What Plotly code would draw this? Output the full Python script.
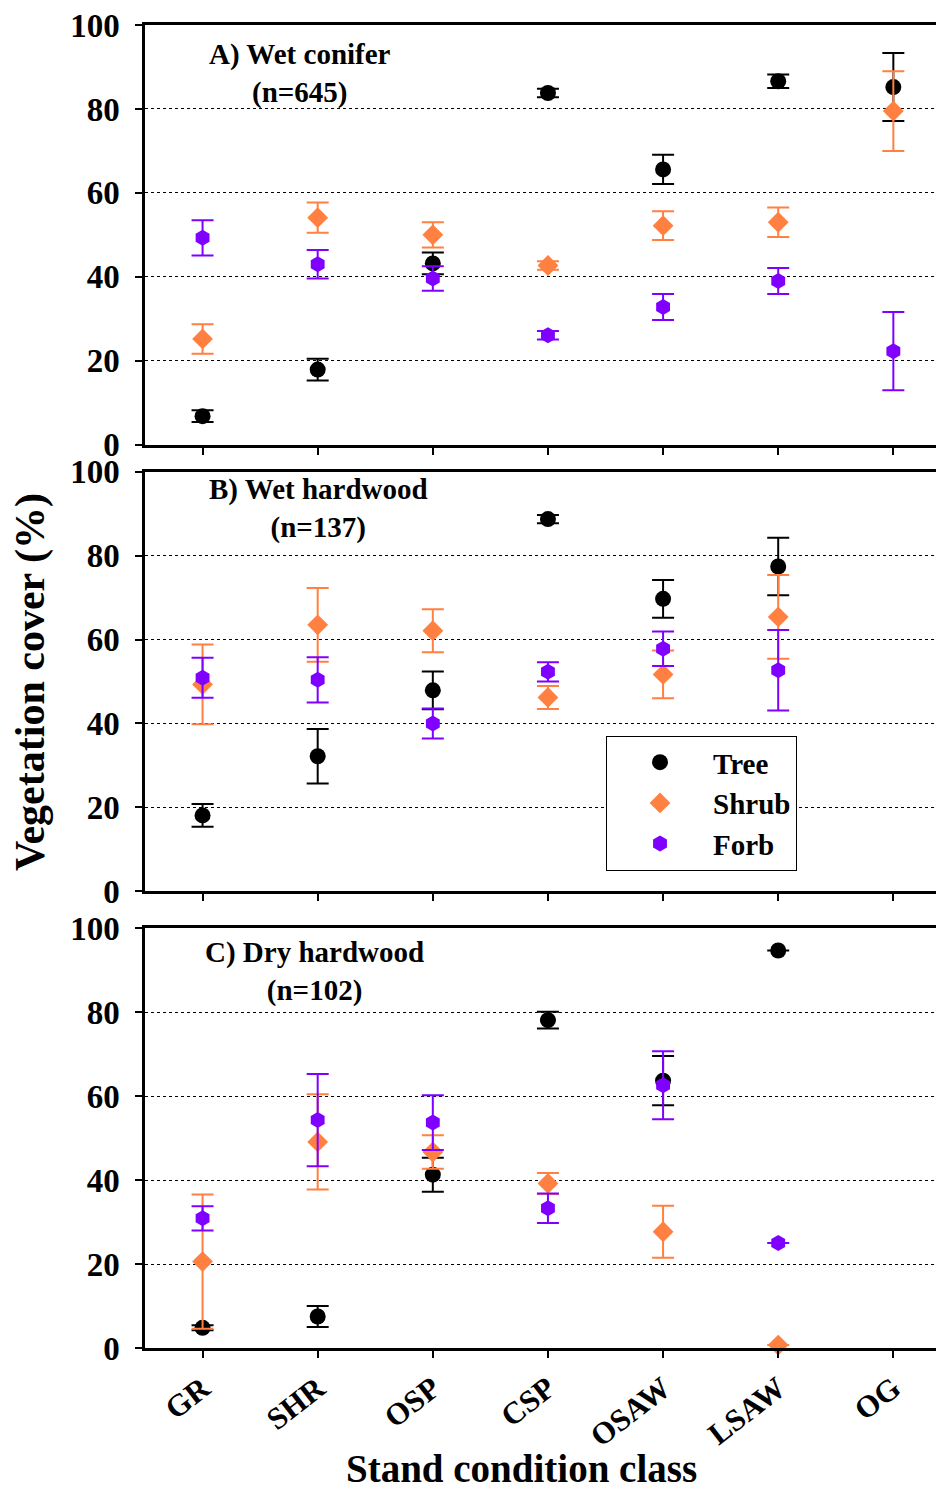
import plotly.graph_objects as go
from plotly.subplots import make_subplots

categories = ["GR", "SHR", "OSP", "CSP", "OSAW", "LSAW", "OG"]

# Panel A) Wet conifer
tree_A = [6.8, 17.9, 43.2, 83.8, 65.6, 86.6, 85.2]
tree_A_err = [1.4, 2.6, 2.6, 1.0, 3.5, 1.6, 8.1]
shrub_A = [25.2, 54.1, 50.0, 42.7, 52.2, 53.0, 79.5]
shrub_A_err = [3.5, 3.6, 3.0, 1.0, 3.4, 3.5, 9.5]
forb_A = [49.3, 43.0, 39.6, 26.1, 32.8, 39.0, 22.3]
forb_A_err = [4.2, 3.4, 2.9, 1.0, 3.1, 3.1, 9.3]

# Panel B) Wet hardwood
tree_B = [18.1, 32.2, 47.9, 88.7, 69.7, 77.4, None]
tree_B_err = [2.7, 6.5, 4.5, 1.0, 4.5, 6.85, None]
shrub_B = [49.3, 63.5, 62.1, 46.2, 51.7, 65.4, None]
shrub_B_err = [9.5, 8.8, 5.1, 2.75, 5.7, 9.95, None]
forb_B = [50.9, 50.4, 40.0, 52.3, 57.8, 52.7, None]
forb_B_err = [4.75, 5.4, 3.6, 2.3, 4.1, 9.6, None]

# Panel C) Dry hardwood
tree_C = [4.8, 7.5, 41.3, 78.1, 63.7, 94.7, None]
tree_C_err = [0.6, 2.5, 4.05, 2.0, 5.85, None, None]
shrub_C = [20.6, 49.1, 46.7, 39.2, 27.7, 0.7, None]
shrub_C_err = [16.0, 11.35, 4.0, 2.5, 6.2, None, None]
forb_C = [30.9, 54.3, 53.7, 33.3, 62.6, 25.0, None]
forb_C_err = [2.9, 11.0, 6.5, 3.5, 8.1, None, None]

panel_labels = ["A) Wet conifer<br>(n=645)", "B) Wet hardwood<br>(n=137)", "C) Dry hardwood<br>(n=102)"]
series_names = ["Tree", "Shrub", "Forb"]
y_ticks = [0, 20, 40, 60, 80, 100]

colors = {"Tree": "#000000", "Shrub": "#FF8040", "Forb": "#8000FF"}
symbols = {"Tree": "circle", "Shrub": "diamond", "Forb": "hexagon"}
sizes = {"Tree": 16, "Shrub": 16, "Forb": 16}

panels = [
    {"Tree": (tree_A, tree_A_err), "Shrub": (shrub_A, shrub_A_err), "Forb": (forb_A, forb_A_err)},
    {"Tree": (tree_B, tree_B_err), "Shrub": (shrub_B, shrub_B_err), "Forb": (forb_B, forb_B_err)},
    {"Tree": (tree_C, tree_C_err), "Shrub": (shrub_C, shrub_C_err), "Forb": (forb_C, forb_C_err)},
]

FONT = "Liberation Serif, Times New Roman, serif"

OFF = 8  # page body margin
W, H = 944 - OFF, 1488 - OFF
ML, MR, MT, MB = 145 - OFF, 0, 21 - OFF, H - (1348 - OFF)
plot_h = H - MT - MB


def py(pix):
    return (H - MB - (pix - OFF)) / plot_h


def px(pix):
    return ((pix - OFF) - ML) / (W - ML - MR)


fig = make_subplots(rows=3, cols=1)

for i, pdata in enumerate(panels):
    row = i + 1
    for name in series_names:
        vals, errs = pdata[name]
        fig.add_trace(
            go.Scatter(
                x=categories,
                y=vals,
                mode="markers",
                name=name,
                showlegend=(i == 0),
                legendgroup=name,
                cliponaxis=False,
                marker=dict(symbol=symbols[name], size=sizes[name], color=colors[name],
                            line=dict(width=0)),
                error_y=dict(type="data", array=errs, visible=True, color=colors[name],
                             thickness=2, width=11),
            ),
            row=row, col=1,
        )

domains = [
    (py(442), py(21)),
    (py(890), py(469)),
    (py(1348), py(927)),
]

for i in range(3):
    ax = "" if i == 0 else str(i + 1)
    fig.layout["yaxis" + ax].update(
        domain=list(domains[i]),
        range=[0, 100],
        tickvals=y_ticks,
        ticks="outside", ticklen=7, tickwidth=1.5, tickcolor="black",
        showline=True, linewidth=2.5, linecolor="black", mirror=False,
        showgrid=True, gridcolor="black", gridwidth=1, griddash="dot",
        zeroline=False,
        tickfont=dict(size=33, family=FONT, color="black", weight="bold"),
        ticklabelstandoff=9,
        ticklabeloverflow="allow",
    )
    fig.layout["xaxis" + ax].update(
        type="category",
        categoryorder="array", categoryarray=categories,
        range=[-0.5, 6.44],
        ticks="outside", ticklen=7, tickwidth=1.5, tickcolor="black",
        showline=True, linewidth=3, linecolor="black", mirror=True,
        showgrid=False, zeroline=False,
        showticklabels=(i == 2),
        tickangle=-38,
        tickfont=dict(size=31, family=FONT, color="black", weight="bold"),
        ticklabeloverflow="allow",
    )

annotations = []
label_pos = [(300, 70), (318, 506), (314, 970)]
for lbl, (xp, yp) in zip(panel_labels, label_pos):
    annotations.append(dict(
        text=lbl, x=px(xp), y=py(yp), xref="paper", yref="paper",
        showarrow=False, align="center", xanchor="center", yanchor="middle",
        font=dict(size=29, family=FONT, color="black", weight="bold"),
    ))

annotations.append(dict(
    text="Vegetation cover (%)", x=px(30), y=py(680), xref="paper", yref="paper",
    showarrow=False, textangle=-90, xanchor="center", yanchor="middle",
    font=dict(size=42, family=FONT, color="black", weight="bold"),
))
annotations.append(dict(
    text="Stand condition class", x=px(521), y=py(1469), xref="paper", yref="paper",
    showarrow=False, xanchor="center", yanchor="middle",
    font=dict(size=39, family=FONT, color="black", weight="bold"),
))

fig.update_layout(
    width=W, height=H,
    margin=dict(l=ML, r=MR, t=MT, b=MB),
    paper_bgcolor="white", plot_bgcolor="white",
    font=dict(family=FONT, color="black", weight="bold"),
    annotations=annotations,
    legend=dict(
        x=px(606), y=py(734), xanchor="left", yanchor="top",
        bgcolor="white", bordercolor="black", borderwidth=1,
        font=dict(size=29, family=FONT, color="black", weight="bold"),
        itemwidth=96,
        tracegroupgap=0,
    ),
)

fig.write_html("out.html")
